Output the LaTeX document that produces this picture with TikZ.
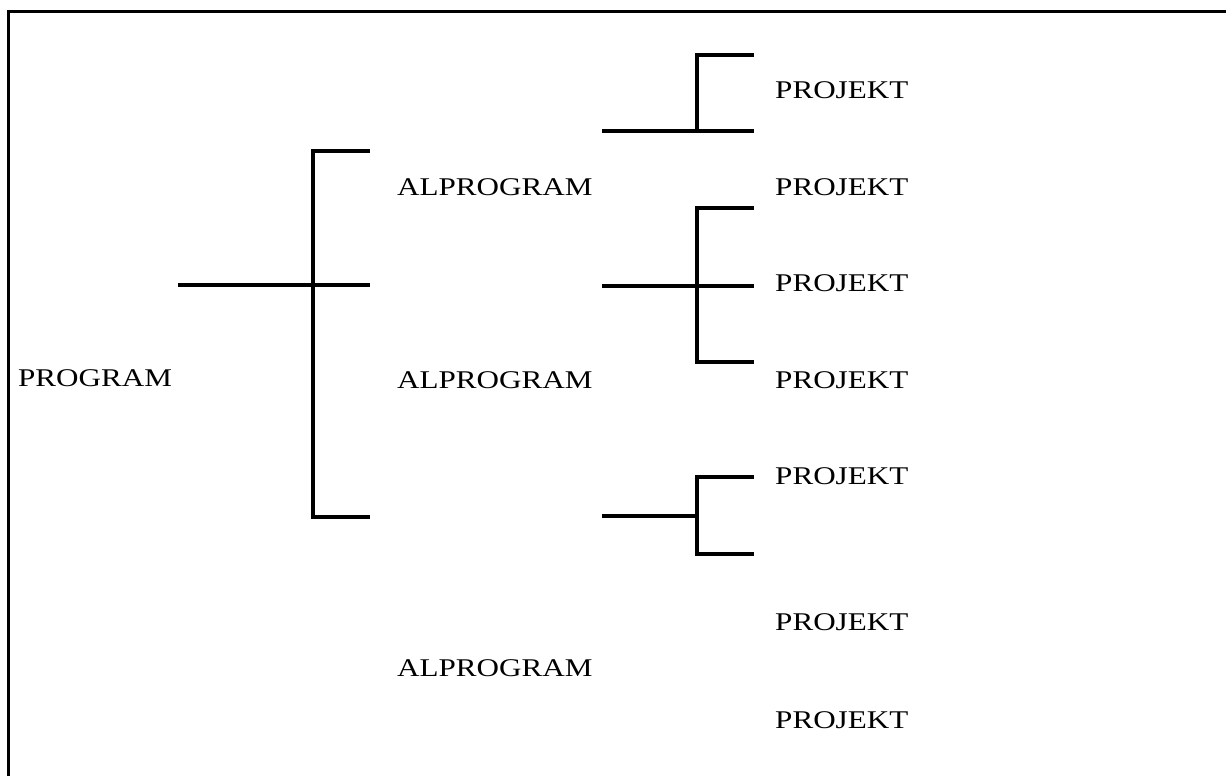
\documentclass[tikz,border=0pt]{standalone}
\usepackage{fontspec}
\usepackage{graphicx}
\setmainfont{Liberation Serif}
\newcommand{\wtext}[1]{\scalebox{1.22}[1]{#1}}
\begin{document}
\begin{tikzpicture}[x=1pt,y=-1pt,
  lbl/.style={anchor=west,inner sep=0pt,font=\fontsize{25.5}{30}\selectfont},
  conn/.style={line width=4.5pt,line join=miter,line cap=butt},
  frame/.style={line width=3pt}]
\useasboundingbox (0,0) rectangle (1226,776);
\fill[white] (0,0) rectangle (1226,776);
% frame
\coordinate (fb) at (8,776);
\coordinate (ft) at (8,12);
\coordinate (fr) at (1226,12);
\draw[frame] (fb) -- (ft) -- (fr);
% labels
\node[lbl] (prog) at (18,378) {\wtext{PROGRAM}};
\node[lbl] (al1) at (397,187) {\wtext{ALPROGRAM}};
\node[lbl] (al2) at (397,380) {\wtext{ALPROGRAM}};
\node[lbl] (al3) at (397,668) {\wtext{ALPROGRAM}};
\node[lbl] (p1) at (775,90) {\wtext{PROJEKT}};
\node[lbl] (p2) at (775,187) {\wtext{PROJEKT}};
\node[lbl] (p3) at (775,283) {\wtext{PROJEKT}};
\node[lbl] (p4) at (775,380) {\wtext{PROJEKT}};
\node[lbl] (p5) at (775,476) {\wtext{PROJEKT}};
\node[lbl] (p6) at (775,622) {\wtext{PROJEKT}};
\node[lbl] (p7) at (775,720) {\wtext{PROJEKT}};
% first-level bracket
\coordinate (a0) at (178,285);
\coordinate (am) at (313,285);
\coordinate (ae) at (370,285);
\coordinate (at) at (313,151);
\coordinate (ate) at (370,151);
\coordinate (ab) at (313,517);
\coordinate (abe) at (370,517);
\draw[conn] (a0) -- (ae);
\draw[conn] (ate) -- (at) -- (ab) -- (abe);
% second-level bracket 1
\coordinate (b0) at (602,131);
\coordinate (bm) at (697,131);
\coordinate (be) at (754,131);
\coordinate (bt) at (697,55);
\coordinate (bte) at (754,55);
\draw[conn] (b0) -- (be);
\draw[conn] (bte) -- (bt) -- (bm);
% second-level bracket 2
\coordinate (c0) at (602,286);
\coordinate (ce) at (754,286);
\coordinate (ct) at (697,208);
\coordinate (cte) at (754,208);
\coordinate (cb) at (697,362);
\coordinate (cbe) at (754,362);
\draw[conn] (c0) -- (ce);
\draw[conn] (cte) -- (ct) -- (cb) -- (cbe);
% second-level bracket 3
\coordinate (d0) at (602,516);
\coordinate (dm) at (697,516);
\coordinate (dt) at (697,477);
\coordinate (dte) at (754,477);
\coordinate (db) at (697,554);
\coordinate (dbe) at (754,554);
\draw[conn] (d0) -- (dm);
\draw[conn] (dte) -- (dt) -- (db) -- (dbe);
\end{tikzpicture}
\end{document}
